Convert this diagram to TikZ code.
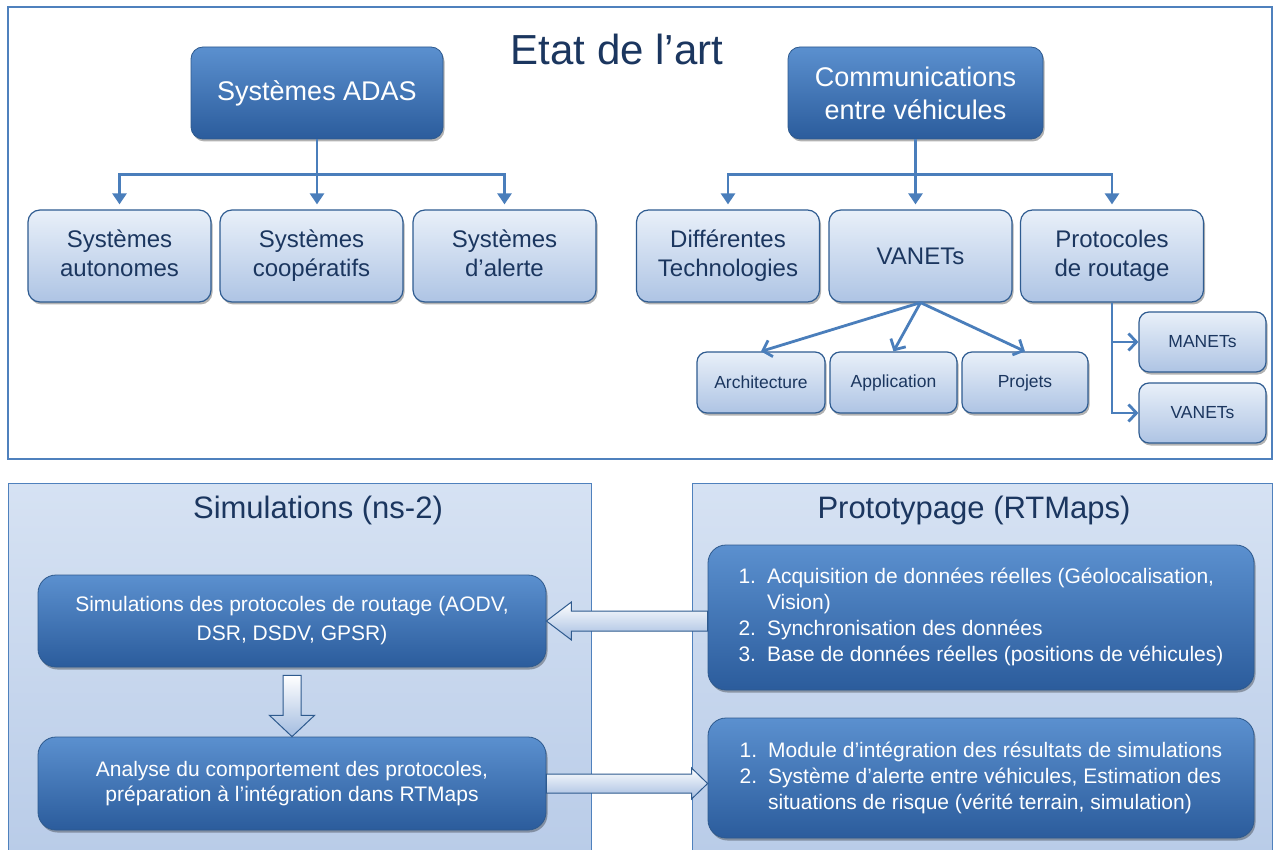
\documentclass[tikz,border=0pt]{standalone}
\usepackage{fontspec}
\setmainfont{Liberation Sans}
\usetikzlibrary{shadows,arrows.meta,calc}
\definecolor{frameblue}{HTML}{4F81BD}
\definecolor{navy}{HTML}{1B365F}
\definecolor{dkTop}{HTML}{5B90CF}
\definecolor{dkBot}{HTML}{2B5C9C}
\definecolor{dkLine}{HTML}{2E5A8E}
\definecolor{ltTop}{HTML}{E9F0F9}
\definecolor{ltBot}{HTML}{AEC4E4}
\definecolor{ltLine}{HTML}{2F5C91}
\definecolor{pnTop}{HTML}{D6E2F3}
\definecolor{pnBot}{HTML}{B9CCE8}
\definecolor{arrowblue}{HTML}{4A7EBB}
\definecolor{baBot}{HTML}{A3BCE0}
\begin{document}
\begin{tikzpicture}[x=1pt,y=-1pt,
  boxshadow/.style={drop shadow={shadow xshift=1.5pt,shadow yshift=-2.5pt,opacity=0.3,fill=black}},
  darkbox/.style={draw=dkLine,line width=0.8pt,rounded corners=12pt,top color=dkTop,bottom color=dkBot,text=white,align=center,inner sep=2pt,boxshadow},
  lightbox/.style={draw=ltLine,line width=1.2pt,rounded corners=12pt,top color=ltTop,bottom color=ltBot,text=navy,align=center,inner sep=2pt,boxshadow},
  smallbox/.style={lightbox,rounded corners=10pt,font=\fontsize{17.5}{20}\selectfont},
  midbox/.style={lightbox,font=\fontsize{24}{29}\selectfont,minimum width=183pt,minimum height=92pt},
  bigbox/.style={darkbox,rounded corners=18pt},
  panelbox/.style={draw=frameblue,line width=1.2pt,top color=pnTop,bottom color=pnBot},
  conn/.style={draw=arrowblue,line width=2.5pt,-{Triangle[length=11pt,width=14pt]},shorten >=5pt},
  connline/.style={draw=arrowblue,line width=2.5pt},
  barb/.style={draw=arrowblue,line width=2.8pt,-{Straight Barb[length=8pt,width=17pt]}},
  blockarrow/.style={draw=dkLine,line width=1pt,top color=white,bottom color=baBot,line join=miter},
  titletext/.style={text=navy,inner sep=0pt}
]
\useasboundingbox (0,0) rectangle (1274,850);
\fill[white] (0,0) rectangle (1274,850);

% ---------- top frame ----------
\draw[frameblue,line width=2.5pt] (8,7) rectangle (1272,459);
\node[titletext,anchor=base,font=\fontsize{42}{48}\selectfont] (etat) at (617,65) {Etat de l’art};

\node[darkbox,minimum width=252pt,minimum height=92pt,font=\fontsize{27}{33}\selectfont] (adas) at (317,93) {Systèmes ADAS};
\node[darkbox,minimum width=255pt,minimum height=92pt,font=\fontsize{27}{33}\selectfont] (comm) at (915.5,93) {Communications\\entre véhicules};

\node[midbox] (aut) at (119.5,256) {Systèmes\\autonomes\vphantom{p}};
\node[midbox] (coop) at (311.5,256) {Systèmes\\coopératifs};
\node[midbox] (alert) at (504.5,256) {Systèmes\\d’alerte\vphantom{p}};

\node[midbox] (tech) at (728,256) {Différentes\\Technologies};
\node[midbox] (van) at (920.5,256) {VANETs};
\node[midbox] (proto) at (1112,256) {Protocoles\\de routage};

\node[smallbox,minimum width=128pt,minimum height=61pt] (arch) at (761,382.5) {Architecture};
\node[smallbox,minimum width=127pt,minimum height=61pt] (appl) at (893.5,382.5) {Application};
\node[smallbox,minimum width=126pt,minimum height=61pt] (proj) at (1025,382.5) {Projets\vphantom{A}};

\node[smallbox,minimum width=127pt,minimum height=60pt] (manet) at (1202.5,342) {MANETs};
\node[smallbox,minimum width=127pt,minimum height=60pt] (van2) at (1202.5,413) {VANETs};

% connectors ADAS
\coordinate (ja) at ($(adas.south)+(0,35)$);
\draw[connline] (adas.south) -- (ja);
\draw[conn] (ja) -| (aut.north);
\draw[conn] (ja) -- (ja |- coop.north);
\draw[conn] (ja) -| (alert.north);
% connectors Communications
\coordinate (jc) at ($(comm.south)+(0,35)$);
\draw[connline] (comm.south) -- (jc);
\draw[conn] (jc) -| (tech.north);
\draw[conn] (jc) -- (jc |- van.north);
\draw[conn] (jc) -| (proto.north);
% VANETs children
\draw[barb] (van.south) -- (arch.north);
\draw[barb] (van.south) -- (appl.north);
\draw[barb] (van.south) -- (proj.north);
% Protocoles children
\draw[barb] (proto.south) |- (manet.west);
\draw[barb] (proto.south) |- (van2.west);

% ---------- bottom panels ----------
\node[panelbox,anchor=north west,minimum width=583pt,minimum height=368pt] (simpanel) at (8,483) {};
\node[panelbox,anchor=north west,minimum width=580pt,minimum height=368pt] (protpanel) at (692,483) {};
\node[titletext,font=\fontsize{31}{36}\selectfont] (simtitle) at (318,510) {Simulations (ns-2)};
\node[titletext,font=\fontsize{31}{36}\selectfont] (prottitle) at (974,510) {Prototypage (RTMaps)};

\node[bigbox,minimum width=508pt,minimum height=92pt,font=\fontsize{21}{29}\selectfont] (s1) at (292,621)
  {Simulations des protocoles de routage (AODV,\\DSR, DSDV, GPSR)};
\node[bigbox,minimum width=508pt,minimum height=93pt,font=\fontsize{21}{25}\selectfont] (s2) at (292,783.5)
  {Analyse du comportement des protocoles,\\préparation à l’intégration dans RTMaps};

\node[bigbox,minimum width=546pt,minimum height=145pt,font=\fontsize{21}{26}\selectfont] (r1) at (981,617.5)
  {\begin{tabular}{@{}l@{\hspace{11pt}}l@{}}
   1. & Acquisition de données réelles (Géolocalisation,\\
      & Vision)\\
   2. & Synchronisation des données\\
   3. & Base de données réelles (positions de véhicules)
   \end{tabular}};
\node[bigbox,minimum width=546pt,minimum height=120pt,font=\fontsize{21}{26}\selectfont] (r2) at (981,778)
  {\begin{tabular}{@{}l@{\hspace{11pt}}l@{}}
   1. & Module d’intégration des résultats de simulations\\
   2. & Système d’alerte entre véhicules, Estimation des\\
      & situations de risque (vérité terrain, simulation)
   \end{tabular}};

% block arrows
\draw[blockarrow] (s1.east) -- ++(25,-19) -- ++(0,9)
  -- ($(r1.west |- s1.east)+(0,-10)$) -- ($(r1.west |- s1.east)+(0,10)$)
  -- ($(s1.east)+(25,10)$) -- ++(0,9) -- cycle;
\draw[blockarrow] ($(s2.east)+(0,-9.5)$) -- ($(r2.west |- s2.east)+(-16,-9.5)$) -- ++(0,-6)
  -- (r2.west |- s2.east) -- ++(-16,15.5) -- ++(0,-6) -- ($(s2.east)+(0,9.5)$) -- cycle;
\draw[blockarrow] ($(s1.south)+(-9,8)$) -- ($(s1.south)+(-9,48)$) -- ($(s1.south)+(-22.5,48)$)
  -- (s2.north) -- ($(s1.south)+(22.5,48)$) -- ($(s1.south)+(9,48)$) -- ($(s1.south)+(9,8)$) -- cycle;
\end{tikzpicture}
\end{document}
